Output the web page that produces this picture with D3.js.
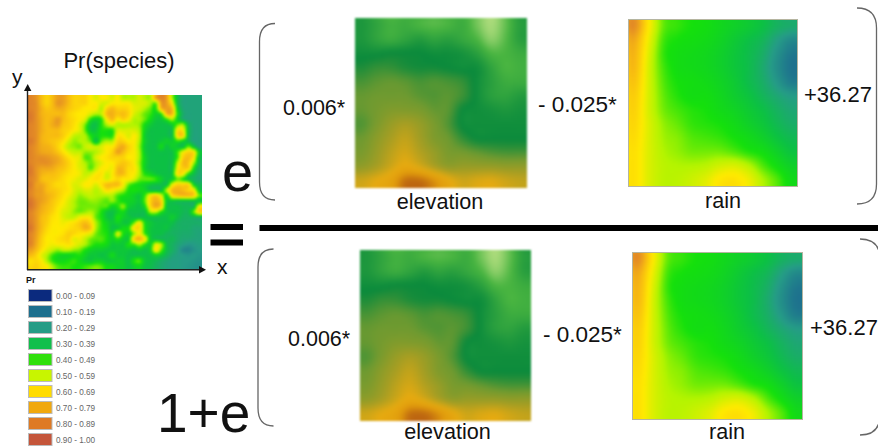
<!DOCTYPE html>
<html><head><meta charset="utf-8">
<script src="https://cdn.jsdelivr.net/npm/d3@7/dist/d3.min.js"></script>
<style>html,body{margin:0;padding:0;background:#fff}svg{display:block}text{font-family:"Liberation Sans",Arial,sans-serif;fill:#111}</style>
</head><body><svg id="c" width="878" height="446"></svg>
<script>
const legendLabels=["0.00 - 0.09","0.10 - 0.19","0.20 - 0.29","0.30 - 0.39","0.40 - 0.49","0.50 - 0.59","0.60 - 0.69","0.70 - 0.79","0.80 - 0.89","0.90 - 1.00"];
const legendColors=["#0b2a7e","#1d6f8e","#259c86","#10bf4c","#2fe00c","#c8f500","#ffdc00","#f0a80e","#de7a24","#c4553a"];
const levelDomain=[0,1,2,3,4,5,6,7,8,9];
const mapColors=["#0b2a7e","#1d6f8e","#259c86","#0cc044","#14e00c","#b4f400","#ffea00","#f8bc10","#e08428","#c4553a"];
const elevDomain=[0,1,2,3,4,5,6,7];
const elevColors=["#d2ea92","#48b440","#0a8a3c","#6f9a30","#a89e22","#e6aa10","#e09a0c","#bd6610"];
const prTopLeft=[
[8,7.7,7,6.5,7,7.5,7.5,7,6.5,6.5,6.5,6,5.5,6,6,5.5],
[8,7.8,7,6.5,7,7.7,7.5,7,6.5,6.5,6.5,6,6,5.5,5.5,6],
[8,7.8,7.2,6.8,7,7.3,7.2,6.8,6.5,6.3,6,6,6,5,6.5,7],
[8.2,7.8,7.2,7,7,7,7,6.5,6.2,6,6,5.5,5,5.2,7,7.2],
[8.2,7.8,7.3,7,7.2,7.6,7,6.6,6.3,6,5.5,4,3.5,4,6,7],
[8,7.8,7.3,7,7.3,7.5,6.8,6.6,6.2,5.6,4.6,3.2,3,4,5,5.5],
[8,7.8,7.3,7,7,7,6.6,6.4,6,5.6,4.5,3.2,3.2,4,4,4],
[8,7.8,7.2,7,7,7,6.6,6,5.2,5,5,4,3.5,4,4,4],
[8.2,7.8,7.2,7,6.8,6.6,6.2,5.4,4.8,5,5,4.5,3,4.5,5,5],
[8,7.7,7.3,7.2,7,6.5,5.8,5,4.8,4.6,5.2,5.5,5.2,5.5,6,6],
[8,7.7,7.4,7.3,7.2,6.8,6.2,5.6,5.2,5.2,4.8,4.8,5,5.5,6,6.5],
[8,7.8,7.8,7.7,7.5,7.3,6.8,6.2,5.8,5.6,4.4,4.5,5.5,6,6.2,6.5],
[8,7.8,7.8,7.8,7.6,7.3,7,6.5,6,5.5,5,4.5,5,5.6,6,6],
[8.2,7.7,7.4,7.4,7.3,7,6.8,6.4,6,5.6,5.2,4.4,5.2,6,6,5.8],
[8.2,7.7,7.2,7,7,6.8,6.5,6.2,6,5.8,5.2,5.4,6,6.2,5.4,6],
[8,7.7,7,6.8,6.8,6.6,6.3,6,5.8,5.5,5.6,6,6.2,6,5.5,6]];
const prTopRight=[
[6,5,5,5,5.5,5,5,7.5,8,7.5,5,3,2.2,2.2,2.2,2.2],
[6,6,6,5.5,5.5,5.5,5,4.5,7.5,7.5,6,3,2.2,2.2,2.2,2.2],
[6.5,6.5,6.3,5.7,5.5,5,4.5,4,7,7.5,7,3.5,2.3,2.2,2.2,2.2],
[6.8,7,6.5,5.5,5,4.5,4.2,3.5,4,7,7,4,2.5,2.2,2.2,2.2],
[6,6.5,6,5,5,4.5,3.8,3.2,3.2,4,5,3.5,2.5,2.2,2.2,2.2],
[5,5,5,5,4.8,3.8,3.3,3,3,3,3.4,4.5,5,2.8,2.2,2.2],
[5.5,5.5,5.5,5.5,5,3.6,3,3,3,3,3,6.2,6,3,2.2,2.2],
[6,6,5.5,6,5.2,3.4,3,3,3,3,3,6.3,6.5,3,2.2,2.2],
[6.5,6.5,6,6,5,3.5,3,3,3.2,3.5,3.3,4,3.5,2.8,2.2,2.2],
[7,7.3,6.5,6,4.8,3.3,3,3,3.8,3,3.5,3.2,3,4.5,3.2,2.2],
[7.5,7,6.3,6,5,3.4,3,3,3,3,3,4.2,5.8,6.5,6.2,3.4],
[6.5,6.5,6,6,5,3.6,3,3,3,3,3,4.2,6.5,7,6,3],
[6.5,6.8,6.5,6,4.8,3.6,3,3,3,3,3,5.2,7,6.8,5,2.8],
[7,7,6.3,6.2,5,3.5,3,3,3,3,3,5.8,6.6,6.5,3.8,2.5],
[7,7,6.2,6,5,4,3.6,3.2,3,3,3.2,6.2,6,4,3,2.4],
[6.4,6,6,5.5,4.6,4.5,4.5,4.2,3.5,3,3.4,4.5,4,3,2.6,2.3]];
const prBottomLeft=[
[8.2,7.5,7.4,7,6.6,6.3,6.3,6,5.5,5.6,6,6,5.5,6.2,7,7],
[8,7.6,7.5,7,6.8,6.6,6.3,6.1,5.5,5.2,5.5,5.5,5,5.5,6.3,6],
[8,7.6,7.5,7.2,7,6.6,6.2,5.8,5.3,4.8,5,5.2,5,5,5,5],
[8.3,7.8,7.5,7.2,6.8,6.4,6,5.5,5,4.6,4.6,4.8,4.8,4.6,4.4,4.8],
[8.3,7.8,7.3,7,6.7,6.2,5.8,5.4,5,4.6,4.6,4.6,4.6,4.4,4.4,3.6],
[8,7.6,7.2,6.9,6.5,6,5.5,5.3,4.8,4.6,4.8,5,4.6,4,3.2,3],
[8,7.6,7,6.7,6.2,6,5.5,5.2,5.2,5.8,6,5.8,4.5,4,3.2,3],
[8.1,7.6,7,6.6,6.1,6,5.8,6,6.2,6.6,7,6.4,5,4.2,3.6,3.2],
[8.3,7.6,7,6.4,6,6,6,6.2,6.4,6.6,7.2,6.8,5,4.2,3.8,3],
[8,7.5,6.8,6.2,6,6,6.2,6.6,6.4,6.1,6,5.6,4.6,4.2,4,3.4],
[8,7.4,6.6,6,6,6.2,6.4,6.5,5.6,5.8,5.2,4.6,4.4,4.4,4,3.5],
[8,7.3,6.5,6,5.8,6,6,6.2,5.8,5.4,5,4.4,4,4,3.8,3.2],
[7.5,7,6.2,5.6,5.2,4.8,5.2,5.2,4.8,4.6,4,3.6,3.4,3.4,3.2,3.2],
[7,6.5,5.6,5,4.2,3.8,3.6,3.6,3.8,4,3.6,3.2,3.2,3,3.2,3.8],
[6.2,6.4,6,5,4.2,3.8,3.8,4,4.2,3.8,3.4,3.2,3.5,3.5,3.2,3.2],
[6.4,6.6,6.2,6,5,4.4,4.2,4.2,4,4,4.2,4.4,4.6,4.4,3.8,3.8]];
const prBottomRight=[
[7,6,4.5,4,3.8,3.5,3.2,3,3,3,5.6,6.6,6.5,6.5,3.6,2.8],
[5.5,5,4,4,3.8,3.6,3,3,3,5.2,7,7.2,7,6.5,6,3.2],
[4.3,4,3.8,3.5,3.2,4.2,6,6.6,5.5,3.6,6.2,6.8,7,7,6.6,4.5],
[4.2,3.8,3.6,3.5,3.2,4.5,6.5,7.2,6.5,3.4,3.2,3,3,3,3,3],
[4,4.8,3.5,3.2,3,3.8,6.3,7.3,6.5,3.2,3,3,2.8,2.8,2.8,6],
[3.5,3.8,3,3,3,3,5,5.2,4,3.2,3,3,2.8,2.8,4.5,6.5],
[4,3.5,3.2,3,3,3,3,3,3,3,3.4,3,2.6,2.6,2.6,2.6],
[3.6,3.2,3.2,4.5,6,3.8,3.3,3,3,3,3,2.6,2.5,2.5,2.5,2.5],
[3.2,3.8,4,6.2,6.3,4,3.2,3,3,3.1,2.7,2.6,2.5,2.5,2.3,2.3],
[5.5,4,3.6,4.8,6,4.2,3.2,3,3,2.7,2.6,2.5,2.4,2.4,2.3,2.2],
[4,3.4,3.4,6.5,7.2,6,3.4,3,2.8,2.7,2.8,2.5,2.3,2.3,2.2,2.2],
[3.3,3.2,4,4.2,5,4,3.4,5.6,5,3,2.6,2.3,2.1,1.9,2,2.1],
[3.2,3.2,3.2,3,3.3,3,3.5,6,4.5,3,2.6,2.2,1.6,1.5,1.8,2],
[3.2,3.2,3,3,3,3,3,3.5,3.2,2.7,2.3,2.1,2,1.9,2,1.9],
[3.4,3.4,3,4,4.4,3.2,3,2.8,2.5,2.3,2.1,2.1,2,2,1.9,1.8],
[3.4,3.4,3,3.4,3.6,3,2.9,2.6,2.4,2.2,2.1,2.1,2,1.9,1.8,1.7]];
const prValues=prTopLeft.map((r,i)=>r.concat(prTopRight[i])).concat(prBottomLeft.map((r,i)=>r.concat(prBottomRight[i])));
const elevValues=[
[1.7,1.4,1.1,1.2,1,0.9,1,1.2,0.7,0.3,0.8,1.5],
[1.7,1.4,1.2,1.4,1.6,1.4,1.5,1.3,1,0.5,0.9,1.5],
[1.9,1.9,2,2,2,1.9,1.9,1.8,1.5,1,1,1.2],
[2.2,2.4,2.4,2.2,2.1,2.1,2,1.9,1.9,1.4,1,1.1],
[2.6,2.8,2.9,2.8,2.6,2.7,2.6,2.4,1.9,1.5,1.2,1.2],
[2.9,3,3,3,2.8,2.7,2.8,2.5,1.9,1.5,1.4,1.6],
[2.9,3.1,3.3,3.3,3.2,2.9,2.8,2,1.9,1.8,1.7,1.8],
[2.7,3.2,3.7,4,3.7,3.2,2.7,1.95,1.9,1.9,1.9,1.9],
[3,3.5,4,4.4,3.9,3.3,3,2.4,2,2,2,2],
[3.2,3.7,4.3,4.7,4.2,3.7,3.2,3.1,2.9,2.7,2.6,2.6],
[3.6,4,4.6,5.2,4.8,4.1,3.6,3.7,3.7,3.7,3.6,3.6],
[4.6,5,5.5,6.8,6.9,6.2,5.2,4.6,4.8,4.9,4.6,4.4]];
const rainValues=[
[7.8,6,4.5,4.2,4,3.9,3.7,3.5,3.3,3,2.6,2.4],
[7.3,5.7,4.3,4,3.9,3.8,3.6,3.3,3,2.7,2.1,1.6],
[7.1,5.5,4.2,3.9,3.8,3.7,3.5,3.2,2.9,2.5,1.8,1.2],
[7,5.4,4.3,3.9,3.8,3.7,3.5,3.2,2.9,2.4,1.7,1.1],
[6.8,5.4,4.4,4,3.9,3.8,3.6,3.3,2.9,2.5,1.9,1.3],
[6.6,5.4,4.5,4.1,3.9,3.9,3.7,3.4,3.1,2.7,2.3,2],
[6.5,5.4,4.6,4.3,4.1,4,3.8,3.6,3.3,3,2.6,2.3],
[6.4,5.5,4.8,4.5,4.2,4.1,4,3.8,3.5,3.2,2.8,2.5],
[6.3,5.5,4.9,4.7,4.4,4.3,4.2,4,3.8,3.5,3.1,2.8],
[6.2,5.5,5,4.8,4.6,4.6,4.6,4.4,4.1,3.9,3.5,3.1],
[6.2,5.5,5.1,5,5,5.1,5.4,5.5,5.1,4.4,3.9,3.5],
[6.2,5.5,5.1,5.1,5.3,5.6,6.1,6.2,5.8,5,4.4,3.8]];

const svg=d3.select("#c"), defs=svg.append("defs");
const levelColor=d3.scaleLinear().domain(levelDomain).range(mapColors).clamp(true);
const elevColor=d3.scaleLinear().domain(elevDomain).range(elevColors).clamp(true);
let uid=0;
function blurFilter(sd){
  const id="b"+(uid++);
  defs.append("filter").attr("id",id).attr("x","-5%").attr("y","-5%").attr("width","110%").attr("height","110%")
    .attr("color-interpolation-filters","sRGB").append("feGaussianBlur").attr("stdDeviation",sd);
  return "url(#"+id+")";
}
// Smooth display of a value grid: Catmull-Rom between cell centres, drawn as small tiles.
function cubic(a,p){
  const n=a.length, i=Math.max(0,Math.min(n-1,Math.floor(p))), t=p-i;
  const at=k=>a[Math.max(0,Math.min(n-1,k))];
  const p0=at(i-1),p1=at(i),p2=at(i+1),p3=at(i+2);
  return 0.5*(2*p1+(p2-p0)*t+(2*p0-5*p1+4*p2-p3)*t*t+(3*p1-p0-3*p2+p3)*t*t*t);
}
function heat(rows,color,box,sd,soft){
  const n=rows.length,m=rows[0].length,step=2,ext=6;
  const col=d3.scaleLinear().domain([box.x,box.x+box.w]).range([-0.5,m-0.5]).clamp(true);
  const row=d3.scaleLinear().domain([box.y,box.y+box.h]).range([-0.5,n-0.5]).clamp(true);
  const cid="clip"+(uid++);
  defs.append("clipPath").attr("id",cid).append("rect").attr("x",box.x).attr("y",box.y).attr("width",box.w).attr("height",box.h);
  const outer=svg.append("g");
  if(soft) outer.attr("filter",blurFilter(soft));
  const g=outer.append("g").attr("clip-path","url(#"+cid+")").append("g").attr("filter",blurFilter(sd));
  const tiles=[];
  const xs=d3.range(box.x-ext,box.x+box.w+ext,step), ys=d3.range(box.y-ext,box.y+box.h+ext,step);
  xs.forEach(px=>{
    const c=col(px+step/2), profile=rows.map(r=>cubic(r,c));
    ys.forEach(py=>tiles.push({px,py,v:cubic(profile,row(py+step/2))}));
  });
  g.selectAll("rect").data(tiles).join("rect")
    .attr("x",d=>d.px).attr("y",d=>d.py).attr("width",step+.5).attr("height",step+.5)
    .attr("fill",d=>color(d.v));
  if(box.stroke) svg.append("rect").attr("x",box.x+.5).attr("y",box.y+.5).attr("width",box.w-1).attr("height",box.h-1)
    .attr("fill","none").attr("stroke",box.stroke).attr("stroke-width",1);
}
function label(t,x,y,size,anchor){
  return svg.append("text").attr("x",x).attr("y",y).attr("font-size",size).attr("text-anchor",anchor||"start").text(t);
}
// maps
heat(prValues,levelColor,{x:28,y:95,w:174,h:174},0.9,0.3);
heat(elevValues,elevColor,{x:355,y:18,w:172,h:170},2,1);
heat(elevValues,elevColor,{x:360,y:250,w:171,h:171},2,1);
heat(rainValues,levelColor,{x:628,y:19,w:170,h:168,stroke:"#b5b5a0"},1.5);
heat(rainValues,levelColor,{x:632,y:252,w:171,h:168,stroke:"#b5b5a0"},1.5);
// axes of the Pr map
const line=d3.line();
svg.append("path").attr("d",line([[27.5,270],[27.5,88]])).attr("stroke","#222").attr("stroke-width",1.4).attr("fill","none");
svg.append("path").attr("d",line([[27,269.7],[202,269.7]])).attr("stroke","#222").attr("stroke-width",1.4).attr("fill","none");
svg.append("path").attr("d",line([[27.7,84],[24,91],[31.4,91]])+"Z").attr("fill","#111");
svg.append("path").attr("d",line([[206,269.7],[199,266],[199,273.4]])+"Z").attr("fill","#111");
label("y",12,84,21);
label("x",217,274,21);
label("Pr(species)",119,68,22,"middle");
// legend
svg.append("text").attr("x",26).attr("y",283).attr("font-size",9).attr("font-weight","bold").attr("fill","#333").text("Pr");
const ly=d3.scaleBand().domain(legendLabels).range([287,447]);
const lg=svg.append("g").selectAll("g").data(legendLabels).join("g");
lg.append("rect").attr("x",28.5).attr("y",d=>ly(d)+2.5).attr("width",23.5).attr("height",12)
  .attr("fill",(d,i)=>legendColors[i]).attr("stroke","#bbb").attr("stroke-width",1);
lg.append("text").attr("x",56).attr("y",d=>ly(d)+11.5).attr("font-size",8.2).style("fill","#666").text(d=>d);
// equals and fraction bar
[[210.5,224,32.5,6],[210.5,239.5,32.5,6],[259.5,225,618.5,6]].forEach(b=>
  svg.append("rect").attr("x",b[0]).attr("y",b[1]).attr("width",b[2]).attr("height",b[3]).attr("fill","#000"));
// braces
function brace(x0,xm,y0,y1,r){
  const p=d3.path();
  p.moveTo(x0,y0);p.quadraticCurveTo(xm,y0,xm,y0+r);p.lineTo(xm,y1-r);p.quadraticCurveTo(xm,y1,x0,y1);
  svg.append("path").attr("d",p.toString()).attr("fill","none").attr("stroke","#666").attr("stroke-width",1.3);
}
brace(275,259.5,23.5,200,18);
brace(273.5,258,249,426,18);
brace(857,876.5,8,204,20);
brace(860,880,239,435,20);
// texts
label("e",222,191,56);
label("1+e",157,432,55);
label("0.006*",283,115,21.5);
label("0.006*",288,346,21.5);
label("- 0.025*",538,112,22.5);
label("- 0.025*",543,342,22.5);
label("+36.27",804,102,22);
label("+36.27",810,335,22);
label("elevation",440,209,21.6,"middle");
label("elevation",447.5,439,21.6,"middle");
label("rain",723,208,21.6,"middle");
label("rain",727,439,21.6,"middle");
</script></body></html>
